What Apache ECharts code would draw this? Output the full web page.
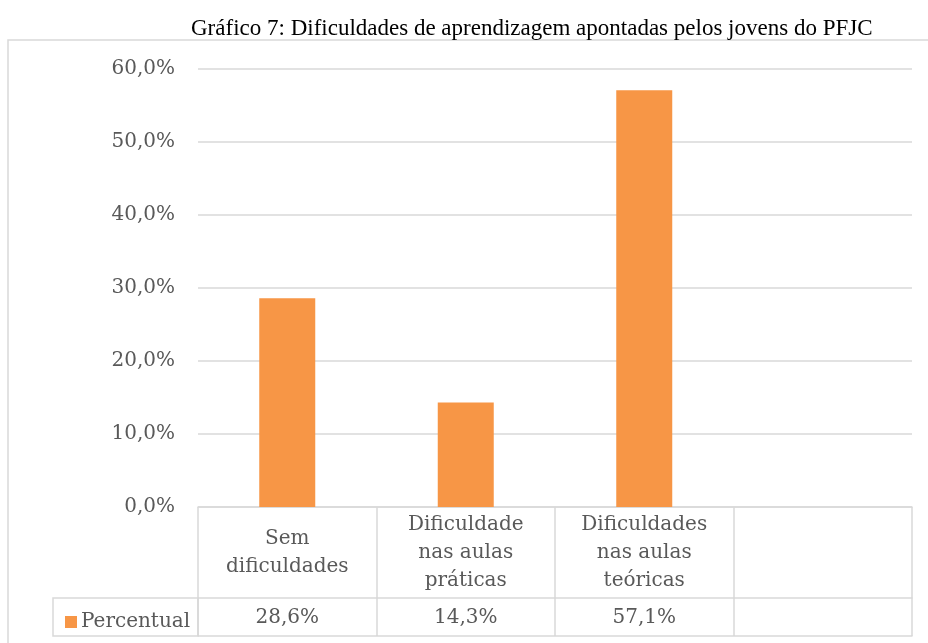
<!DOCTYPE html>
<html>
<head>
<meta charset="utf-8">
<script src="https://cdn.jsdelivr.net/npm/echarts@6/dist/echarts.min.js"></script>
<style>
  html, body { margin: 0; padding: 0; background: #fff; }
  #chart { width: 928px; height: 643px; }
</style>
</head>
<body>
<div id="chart"></div>
<script>
const categories = ['Sem\ndificuldades', 'Dificuldade\nnas aulas\npráticas', 'Dificuldades\nnas aulas\nteóricas', '']
const percentual = [0.286, 0.143, 0.571, null]
const seriesName = 'Percentual'
const titleText = 'Gráfico 7: Dificuldades de aprendizagem apontadas pelos jovens do PFJC'

const fmt = v => (v * 100).toFixed(1).replace('.', ',') + '%'
const valueLabels = percentual.map(v => v == null ? '' : fmt(v))

const FONT = 'DejaVu Serif'
const FSIZE = 20
const TEXT = '#595959'
const LINE = '#d9d9d9'

// grid edges, the data table hangs below the plot
const gridLeft = 198, gridRight = 16, gridTop = 69, gridBottom = 136
const headerH = 91, rowH = 38
const W = 928, H = 643
const axisY = H - gridBottom

const chart = echarts.init(document.getElementById('chart'))

chart.setOption({
  animation: false,
  title: {
    text: titleText,
    left: 186,
    top: 12,
    textStyle: { fontFamily: 'Liberation Serif', fontSize: 23, fontWeight: 'normal', color: '#000' }
  },
  legend: {
    data: [seriesName],
    left: 60,
    top: axisY + headerH + 9,
    icon: 'rect',
    itemWidth: 12,
    itemHeight: 12,
    itemGap: 0,
    textStyle: { fontFamily: FONT, fontSize: FSIZE, color: TEXT, padding: [0, 0, 0, -1] }
  },
  grid: { left: gridLeft, right: gridRight, top: gridTop, bottom: gridBottom },
  xAxis: [
    {
      type: 'category',
      data: categories,
      axisLine: { show: true, lineStyle: { color: LINE, width: 1.5 } },
      axisTick: { show: true, interval: 0, length: headerH + rowH, lineStyle: { color: LINE, width: 1.5 } },
      axisLabel: {
        interval: 0,
        margin: 46,
        verticalAlign: 'middle',
        lineHeight: 28,
        fontFamily: FONT, fontSize: FSIZE, color: TEXT
      }
    },
    {
      type: 'category',
      data: valueLabels,
      position: 'bottom',
      offset: headerH,
      axisLine: { show: true, lineStyle: { color: LINE, width: 1.5 } },
      axisTick: { show: false },
      axisLabel: {
        interval: 0,
        margin: 20,
        verticalAlign: 'middle',
        fontFamily: FONT, fontSize: FSIZE, color: TEXT
      }
    },
    {
      type: 'category',
      data: categories,
      position: 'bottom',
      offset: headerH + rowH,
      axisLine: { show: true, lineStyle: { color: LINE, width: 1.5 } },
      axisTick: { show: false },
      axisLabel: { show: false }
    }
  ],
  yAxis: {
    type: 'value',
    min: 0,
    max: 0.6,
    interval: 0.1,
    axisLine: { show: false },
    axisTick: { show: false },
    splitLine: { lineStyle: { color: LINE, width: 1.5 } },
    axisLabel: {
      margin: 23,
      formatter: v => fmt(v),
      fontFamily: FONT, fontSize: FSIZE, color: TEXT
    }
  },
  series: [
    {
      name: seriesName,
      type: 'bar',
      data: percentual,
      barWidth: 56,
      itemStyle: { color: '#F79646' }
    }
  ],
  graphic: [
    // outer chart frame
    {
      type: 'rect',
      shape: { x: 8, y: 40, width: W, height: H },
      style: { fill: 'none', stroke: LINE, lineWidth: 1.5 },
      silent: true
    },
    // legend key cell of the data table
    {
      type: 'rect',
      shape: { x: 53, y: axisY + headerH, width: gridLeft - 53, height: rowH },
      style: { fill: 'none', stroke: LINE, lineWidth: 1.5 },
      silent: true
    }
  ]
})
</script>
</body>
</html>
